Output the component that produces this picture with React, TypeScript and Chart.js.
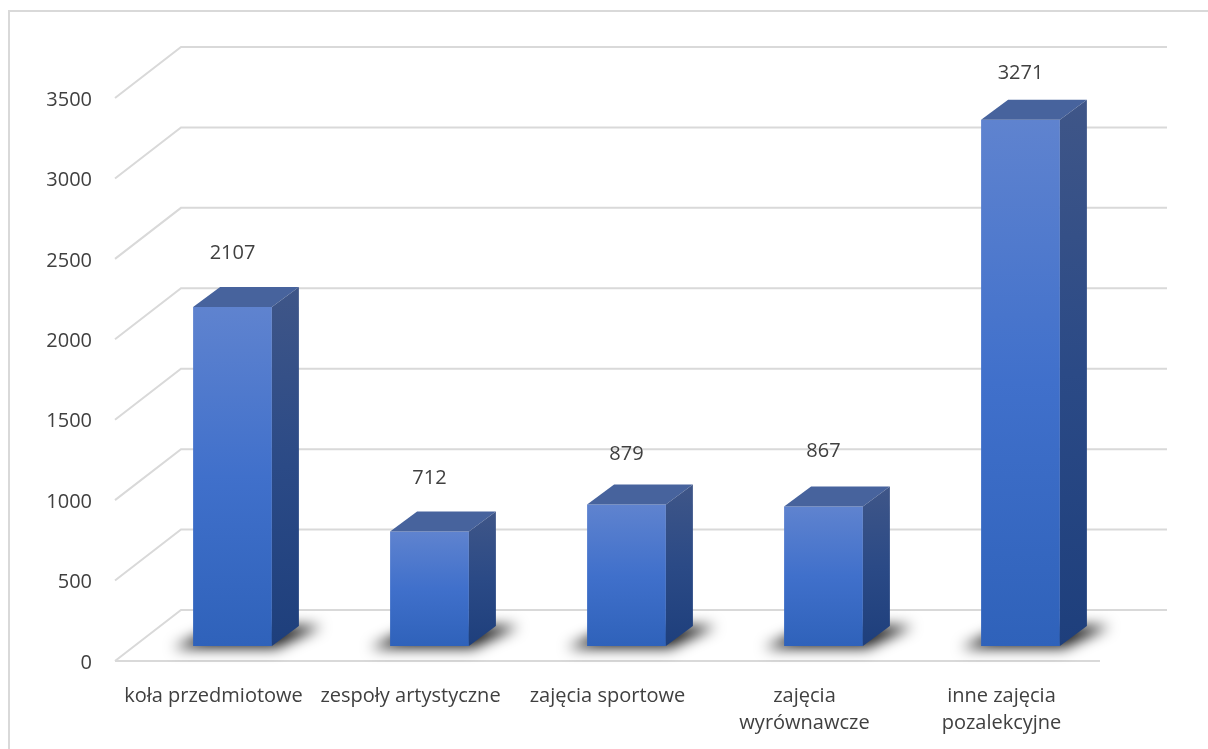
import React, { useEffect, useRef } from "react";
import { Chart, registerables } from "chart.js";

Chart.register(...registerables);

const categories: (string | string[])[] = [
  "koła przedmiotowe",
  "zespoły artystyczne",
  "zajęcia sportowe",
  ["zajęcia", "wyrównawcze"],
  ["inne zajęcia", "pozalekcyjne"],
];
const values = [2107, 712, 879, 867, 3271];
const labelLift = [54, 53, 50, 55, 47];
const yTickMax = 3500;
const yTickStep = 500;

const FONT = '"Open Sans", sans-serif';
const TEXT = "#404040";
const GRID = "#d9d9d9";
const WALL = { dx: 66, dy: -51 };
const BAR_SHIFT = { dx: 19, dy: -15 };
const DEPTH = { dx: 27, dy: -20 };

const poly = (ctx: CanvasRenderingContext2D, pts: number[][]) => {
  ctx.beginPath();
  pts.forEach(([x, y], i) => (i ? ctx.lineTo(x, y) : ctx.moveTo(x, y)));
  ctx.closePath();
};

const scene = {
  id: "scene3d",
  beforeDatasetsDraw(chart: any) {
    const { ctx, chartArea: a, scales } = chart;
    ctx.save();
    // Frame
    ctx.strokeStyle = GRID;
    ctx.lineWidth = 2;
    ctx.beginPath();
    ctx.moveTo(9, 760);
    ctx.lineTo(9, 11);
    ctx.lineTo(1220, 11);
    ctx.stroke();
    // Grid: wall lines and their slanted returns
    for (const t of scales.y.ticks) {
      const y = scales.y.getPixelForValue(t.value);
      ctx.beginPath();
      ctx.moveTo(a.left, y);
      ctx.lineTo(a.left + WALL.dx, y + WALL.dy);
      ctx.lineTo(a.right + WALL.dx + 1, y + WALL.dy);
      ctx.stroke();
    }
    // Floor front edge
    ctx.beginPath();
    ctx.moveTo(a.left, a.bottom);
    ctx.lineTo(a.right, a.bottom);
    ctx.stroke();
    // Cast shadows
    const meta = chart.getDatasetMeta(0);
    ctx.filter = "blur(7px)";
    ctx.fillStyle = "rgba(0,0,0,0.9)";
    for (const el of meta.data) {
      const l = el.x - el.width / 2 + BAR_SHIFT.dx;
      const r = l + el.width;
      const b = el.base + BAR_SHIFT.dy;
      poly(ctx, [
        [l - 20, b + 2],
        [r + 4, b + 2],
        [r + 50, b - 20],
        [l + 26, b - 20],
      ]);
      ctx.fill();
    }
    ctx.filter = "none";
    ctx.restore();
    // The library's bars are drawn shifted onto the floor's middle
    ctx.save();
    ctx.translate(BAR_SHIFT.dx, BAR_SHIFT.dy);
  },
  afterDatasetsDraw(chart: any) {
    const { ctx } = chart;
    ctx.restore();
    ctx.save();
    const meta = chart.getDatasetMeta(0);
    meta.data.forEach((el: any, i: number) => {
      const l = el.x - el.width / 2 + BAR_SHIFT.dx;
      const r = l + el.width;
      const top = el.y + BAR_SHIFT.dy;
      const bottom = el.base + BAR_SHIFT.dy;
      // Top face
      ctx.fillStyle = "#47639d";
      poly(ctx, [
        [l, top],
        [r, top],
        [r + DEPTH.dx, top + DEPTH.dy],
        [l + DEPTH.dx, top + DEPTH.dy],
      ]);
      ctx.fill();
      // Side face
      const g = ctx.createLinearGradient(0, top + DEPTH.dy, 0, bottom);
      g.addColorStop(0, "#3f5688");
      g.addColorStop(0.5, "#2b4a86");
      g.addColorStop(1, "#1e3f7c");
      ctx.fillStyle = g;
      poly(ctx, [
        [r, top],
        [r + DEPTH.dx, top + DEPTH.dy],
        [r + DEPTH.dx, bottom + DEPTH.dy],
        [r, bottom],
      ]);
      ctx.fill();
      // Data label
      ctx.font = `20px ${FONT}`;
      ctx.fillStyle = TEXT;
      ctx.textAlign = "center";
      ctx.textBaseline = "middle";
      ctx.fillText(String(values[i]), el.x + BAR_SHIFT.dx, top - labelLift[i]);
    });
    ctx.restore();
  },
};

export default function App() {
  const ref = useRef<HTMLCanvasElement>(null);
  useEffect(() => {
    const chart = new Chart(ref.current!, {
      type: "bar",
      plugins: [scene],
      data: {
        labels: categories as any,
        datasets: [
          {
            data: values,
            barPercentage: 0.4,
            categoryPercentage: 1,
            backgroundColor: (c: any) => {
              const { ctx, scales } = c.chart;
              const y0 = scales.y ? scales.y.getPixelForValue(c.raw) : NaN;
              const y1 = scales.y ? scales.y.getPixelForValue(0) : NaN;
              if (!Number.isFinite(y0) || !Number.isFinite(y1)) return "#3f6cc6";
              const g = ctx.createLinearGradient(0, y0, 0, y1);
              g.addColorStop(0, "#5f83cf");
              g.addColorStop(0.5, "#4070cb");
              g.addColorStop(1, "#2f62ba");
              return g;
            },
          },
        ],
      },
      options: {
        animation: false,
        responsive: false,
        layout: { padding: { left: 0, top: 98, right: 108, bottom: 0 } },
        plugins: { legend: { display: false }, tooltip: { enabled: false }, title: { display: false } },
        scales: {
          x: {
            grid: { display: false },
            border: { display: false },
            afterFit: (s: any) => {
              s.height = 88;
            },
            ticks: {
              autoSkip: false,
              maxRotation: 0,
              padding: 14,
              color: TEXT,
              font: { family: FONT, size: 20, lineHeight: 1.35 },
            },
          },
          y: {
            min: 0,
            max: yTickMax,
            grid: { display: false },
            border: { display: false },
            afterFit: (s: any) => {
              s.width = 115;
            },
            ticks: {
              stepSize: yTickStep,
              padding: 15,
              labelOffset: 2,
              color: TEXT,
              font: { family: FONT, size: 20 },
              callback: (v: any) => String(v),
            },
          },
        },
      },
    });
    return () => chart.destroy();
  }, []);
  return (
    <div style={{ position: "fixed", left: 0, top: 0, width: 1208, height: 749, background: "#fff" }}>
      <canvas ref={ref} width={1208} height={749} style={{ display: "block" }} />
    </div>
  );
}
